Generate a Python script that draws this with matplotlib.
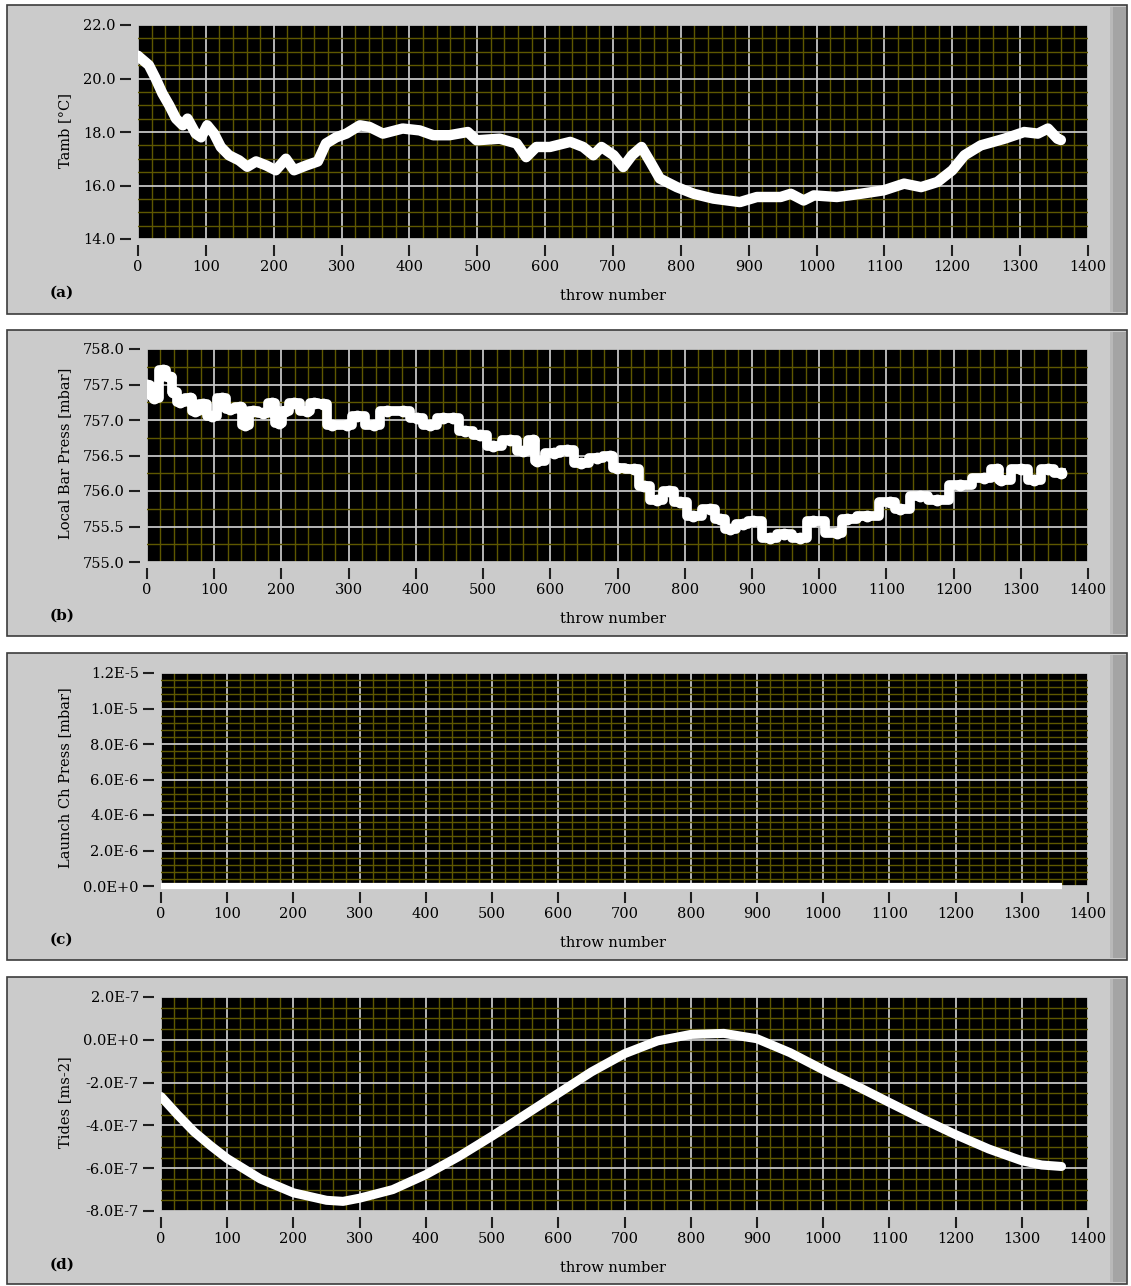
import matplotlib
matplotlib.use("Agg")
import matplotlib.pyplot as plt
from matplotlib.patches import Rectangle
from matplotlib.ticker import MultipleLocator, FuncFormatter
import numpy as np

# ---------------- data ----------------
throw_ticks = list(range(0, 1401, 100))

tamb_n = [0, 2, 16, 26, 36, 46, 56, 66, 73, 85, 93, 102, 112, 122, 134, 149, 161, 174, 189, 203,
          218, 230, 248, 265, 277, 292, 307, 327, 341, 361, 390, 415, 435, 459, 486, 499, 533, 558, 572, 587,
          607, 637, 656, 671, 683, 701, 715, 728, 742, 755, 769, 794, 819, 848, 887, 912, 947, 962, 981, 996,
          1030, 1065, 1099, 1129, 1154, 1178, 1200, 1218, 1242, 1277, 1306, 1326, 1341, 1355, 1360]
tamb = [20.85, 20.8, 20.5, 20.0, 19.44, 19.0, 18.5, 18.25, 18.5, 17.94, 17.8, 18.25, 17.94, 17.44, 17.13, 16.94, 16.7, 16.9, 16.75, 16.57,
        17.0, 16.57, 16.75, 16.9, 17.57, 17.8, 17.94, 18.25, 18.19, 17.94, 18.13, 18.06, 17.88, 17.88, 18.0, 17.69, 17.75, 17.57, 17.06, 17.44,
        17.44, 17.63, 17.44, 17.13, 17.44, 17.13, 16.69, 17.13, 17.44, 16.88, 16.26, 15.94, 15.69, 15.51, 15.38, 15.57, 15.57, 15.69, 15.44, 15.63,
        15.57, 15.69, 15.82, 16.07, 15.94, 16.13, 16.57, 17.13, 17.5, 17.75, 18.0, 17.94, 18.13, 17.75, 17.7]

bar_n = [0, 8, 11, 24, 34, 39, 49, 64, 71, 84, 96, 111, 123, 138, 146, 158, 173, 186, 196, 205,
         218, 238, 248, 262, 275, 297, 312, 337, 357, 381, 401, 421, 441, 456, 473, 496, 515, 540, 560, 575,
         580, 605, 625, 645, 669, 689, 699, 724, 739, 759, 776, 793, 813, 837, 852, 867, 887, 902, 927, 947,
         972, 991, 1026, 1041, 1071, 1106, 1121, 1150, 1175, 1210, 1245, 1265, 1270, 1300, 1320, 1340, 1360]
bar_p = [757.5, 757.35, 757.31, 757.71, 757.61, 757.40, 757.26, 757.31, 757.12, 757.22, 757.05, 757.31, 757.15, 757.19, 756.93, 757.12, 757.10, 757.24, 756.96, 757.12,
         757.24, 757.12, 757.24, 757.22, 756.93, 756.93, 757.05, 756.93, 757.12, 757.12, 757.03, 756.93, 757.03, 757.03, 756.85, 756.79, 756.63, 756.72, 756.56, 756.72,
         756.42, 756.54, 756.58, 756.40, 756.47, 756.49, 756.33, 756.31, 756.07, 755.88, 756.00, 755.84, 755.65, 755.74, 755.60, 755.46, 755.53, 755.58, 755.34, 755.40,
         755.34, 755.58, 755.41, 755.60, 755.65, 755.84, 755.74, 755.93, 755.88, 756.09, 756.19, 756.31, 756.16, 756.31, 756.16, 756.31, 756.26]

launch_n = [0, 1360]
launch_p = [0.0, 0.0]

tide_n = [0, 25, 50, 75, 100, 150, 200, 250, 275, 300, 350, 400, 450, 500, 550, 600, 650, 700, 750,
          800, 850, 900, 950, 1000, 1050, 1100, 1150, 1200, 1250, 1300, 1330, 1360]
tide = [-2.65e-7, -3.5e-7, -4.3e-7, -4.95e-7, -5.55e-7, -6.5e-7, -7.15e-7, -7.5e-7, -7.55e-7, -7.4e-7,
        -7.0e-7, -6.3e-7, -5.45e-7, -4.5e-7, -3.5e-7, -2.5e-7, -1.5e-7, -0.65e-7, -0.05e-7,
        0.25e-7, 0.3e-7, 0.05e-7, -0.6e-7, -1.4e-7, -2.15e-7, -2.93e-7, -3.7e-7, -4.43e-7, -5.1e-7,
        -5.65e-7, -5.85e-7, -5.92e-7]

ylabels = ["Tamb [°C]", "Local Bar Press [mbar]", "Launch Ch Press [mbar]", "Tides [ms-2]"]
panel_tags = ["(a)", "(b)", "(c)", "(d)"]
xlabel = "throw number"

# ---------------- layout ----------------
W, H = 1131, 1286
fig = plt.figure(figsize=(W / 100, H / 100), dpi=100)
fig.patch.set_facecolor("white")

def fx(x):
    return x / W

def fy(y):
    return 1 - y / H

SERIF = ["DejaVu Serif"]
FS = 10.5

panels = [  # panel top, bottom, plot left, plot top, plot bottom
    dict(pt=5, pb=314, l=138, t=25, b=239),
    dict(pt=330, pb=636, l=147, t=349, b=562),
    dict(pt=653, pb=960, l=161, t=673, b=886),
    dict(pt=977, pb=1284, l=161, t=997, b=1211),
]
PLOT_R = 1088

def sci_fmt(v, pos):
    if abs(v) < 1e-20:
        return "0.0E+0"
    e = int(np.floor(np.log10(abs(v)) + 1e-9))
    m = v / 10 ** e
    return f"{m:.1f}E{e}"

for i, p in enumerate(panels):
    # gray panel
    fig.add_artist(Rectangle((fx(7), fy(p["pb"])), (1127 - 7) / W, (p["pb"] - p["pt"]) / H,
                             transform=fig.transFigure, facecolor="#cbcbcb", edgecolor="#3c3c3c",
                             lw=1.2, zorder=-5))
    fig.add_artist(Rectangle((fx(1110), fy(p["pb"] - 2)), 16 / W, (p["pb"] - p["pt"] - 4) / H,
                             transform=fig.transFigure, facecolor="#a4a4a4", edgecolor="none", zorder=-4))
    fig.add_artist(Rectangle((fx(1110), fy(p["pb"] - 2)), 3 / W, (p["pb"] - p["pt"] - 4) / H,
                             transform=fig.transFigure, facecolor="#b8b8b8", edgecolor="none", zorder=-3))

    ax = fig.add_axes([fx(p["l"]), fy(p["b"]), (PLOT_R - p["l"]) / W, (p["b"] - p["t"]) / H])
    ax.set_facecolor("black")
    ax.set_xlim(0, 1400)
    ax.set_xticks(throw_ticks)
    ax.xaxis.set_minor_locator(MultipleLocator(20))

    if i == 0:
        ax.set_ylim(14, 22)
        ax.yaxis.set_major_locator(MultipleLocator(2))
        ax.yaxis.set_minor_locator(MultipleLocator(0.5))
        ax.yaxis.set_major_formatter(FuncFormatter(lambda v, pos: f"{v:.1f}"))
        ax.plot(tamb_n, tamb, color="white", lw=7.5, solid_capstyle="round", solid_joinstyle="round", zorder=3)
    elif i == 1:
        ax.set_ylim(755, 758)
        ax.yaxis.set_major_locator(MultipleLocator(0.5))
        ax.yaxis.set_minor_locator(MultipleLocator(0.25))
        ax.yaxis.set_major_formatter(FuncFormatter(lambda v, pos: f"{v:.1f}"))
        ax.plot(bar_n, bar_p, color="white", lw=7, drawstyle="steps-mid", solid_joinstyle="round", zorder=3)
        ax.plot(bar_n, bar_p, "o", color="white", ms=7.5, zorder=3)
    elif i == 2:
        ax.set_ylim(0, 1.2e-5)
        ax.yaxis.set_major_locator(MultipleLocator(2e-6))
        ax.yaxis.set_minor_locator(MultipleLocator(4e-7))
        ax.yaxis.set_major_formatter(FuncFormatter(sci_fmt))
        ax.plot(launch_n, launch_p, color="white", lw=4.5, solid_capstyle="butt", zorder=3, clip_on=False)
    else:
        ax.set_ylim(-8e-7, 2e-7)
        ax.yaxis.set_major_locator(MultipleLocator(2e-7))
        ax.yaxis.set_minor_locator(MultipleLocator(5e-8))
        ax.yaxis.set_major_formatter(FuncFormatter(sci_fmt))
        ax.plot(tide_n, tide, color="white", lw=6.5, solid_capstyle="round", solid_joinstyle="round", zorder=3)

    ax.set_axisbelow(True)
    ax.grid(which="minor", color="#5e5700", lw=1.0)
    ax.grid(which="major", color="#c4c4c4", lw=1.3)
    for s in ax.spines.values():
        s.set_visible(False)
    ax.spines["left"].set_position(("outward", 5))
    ax.spines["bottom"].set_position(("outward", 4))
    ax.tick_params(which="major", direction="out", length=8, width=1.5, color="#202020",
                   labelsize=FS, labelcolor="black", pad=3)
    ax.tick_params(which="minor", length=0)
    for lab in ax.get_xticklabels() + ax.get_yticklabels():
        lab.set_fontfamily(SERIF)

    # labels
    fig.text(fx(65), fy((p["t"] + p["b"]) / 2 - 2), ylabels[i], rotation=90, ha="center", va="center",
             fontsize=FS, family=SERIF)
    fig.text(fx(613), fy(p["b"] + 57), xlabel, ha="center", va="center", fontsize=FS, family=SERIF)
    fig.text(fx(50), fy(p["b"] + 54), panel_tags[i], ha="left", va="center", fontsize=FS + 0.5,
             family=SERIF, fontweight="bold")

fig.savefig("out.png", dpi=100, facecolor="white")
